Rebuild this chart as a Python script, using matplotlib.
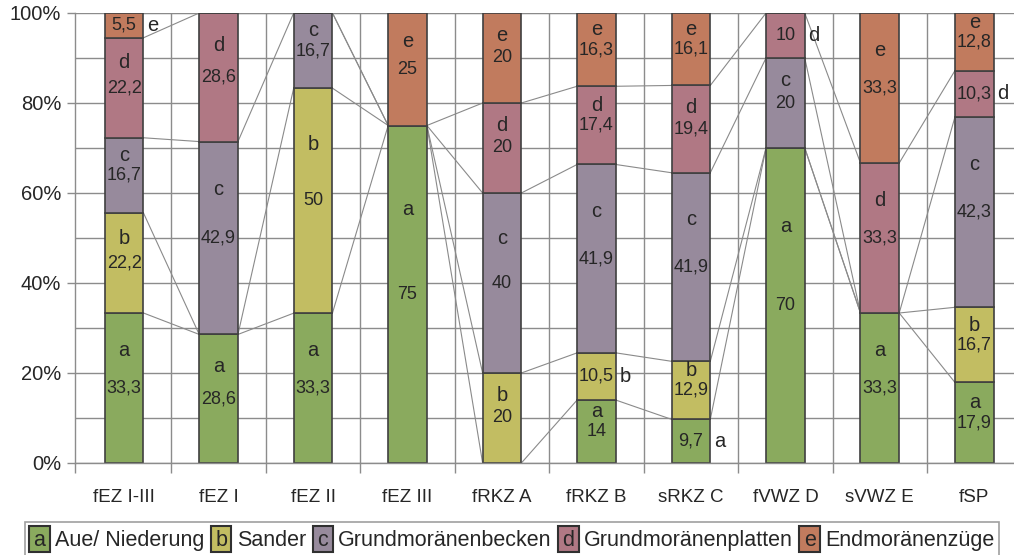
import matplotlib
matplotlib.use("Agg")
import matplotlib.pyplot as plt
import numpy as np
from matplotlib.legend_handler import HandlerPatch
from matplotlib.patches import Patch, Rectangle
from matplotlib.text import Text

plt.rcParams["font.family"] = ["Liberation Sans", "DejaVu Sans"]

categories = ["fEZ I-III", "fEZ I", "fEZ II", "fEZ III", "fRKZ A",
              "fRKZ B", "sRKZ C", "fVWZ D", "sVWZ E", "fSP"]
letters = ["a", "b", "c", "d", "e"]
names = ["Aue/ Niederung", "Sander", "Grundmoränenbecken",
         "Grundmoränenplatten", "Endmoränenzüge"]
a_vals = [33.3, 28.6, 33.3, 75, 0, 14, 9.7, 70, 33.3, 17.9]
b_vals = [22.2, 0, 50, 0, 20, 10.5, 12.9, 0, 0, 16.7]
c_vals = [16.7, 42.9, 16.7, 0, 40, 41.9, 41.9, 20, 0, 42.3]
d_vals = [22.2, 28.6, 0, 0, 20, 17.4, 19.4, 10, 33.3, 10.3]
e_vals = [5.5, 0, 0, 25, 20, 16.3, 16.1, 0, 33.3, 12.8]
colors = ["#8aaa5e", "#c2bd62", "#978a9c", "#b07884", "#c17b5e"]

TXT = "#262626"
GRID = "#8c8c8c"


class LetterBox(HandlerPatch):
    def __init__(self, letter, **kw):
        super().__init__(**kw)
        self.letter = letter

    def create_artists(self, legend, orig_handle, xdescent, ydescent,
                       width, height, fontsize, trans):
        r = Rectangle((-xdescent, -ydescent), width, height,
                      facecolor=orig_handle.get_facecolor(),
                      edgecolor="#303030", lw=1.5, transform=trans)
        t = Text(-xdescent + width / 2, -ydescent + height / 2 - 1,
                 self.letter, ha="center", va="center", fontsize=fontsize,
                 color=TXT, transform=trans)
        return [r, t]


raw = np.array([a_vals, b_vals, c_vals, d_vals, e_vals], dtype=float)
pct = raw / raw.sum(axis=0) * 100
cum = np.cumsum(pct, axis=0)
x = np.arange(len(categories))
w = 0.41

fig = plt.figure(figsize=(10.14, 5.55), dpi=100)
ax = fig.add_axes([75 / 1014, 1 - 463 / 555, 939 / 1014, 450 / 555])

# grid
for yv in range(0, 101, 10):
    ax.axhline(yv, color=GRID, lw=1.0, zorder=0)
for xv in x[:-1] + 0.5:
    ax.axvline(xv, color=GRID, lw=1.0, zorder=0)

# series lines
for k in range(5):
    for i in range(len(x) - 1):
        ax.plot([x[i] + w / 2, x[i + 1] - w / 2], [cum[k, i], cum[k, i + 1]],
                color="#8a8a8a", lw=0.8, zorder=1)

bottom = np.zeros(len(x))
for k in range(5):
    ax.bar(x, pct[k], w, bottom=bottom, color=colors[k],
           edgecolor="#404040", lw=1.2, zorder=2)
    for i in range(len(x)):
        h = pct[k, i]
        if h <= 0:
            continue
        mid = bottom[i] + h / 2
        lab = f"{raw[k, i]:g}".replace(".", ",")
        ax.text(x[i], mid, lab, ha="center", va="center", fontsize=13,
                color=TXT, zorder=3)
        if h < 11:
            ax.text(x[i] + w / 2 + 0.04, mid, letters[k], ha="left",
                    va="center", fontsize=14.5, color=TXT, zorder=3)
        else:
            off = max(4.4, 0.25 * h)
            ax.text(x[i], mid + off, letters[k], ha="center", va="center",
                    fontsize=14.5, color=TXT, zorder=3)
    bottom += pct[k]

ax.set_xlim(-0.52, 9.42)
ax.set_ylim(0, 100)
ax.set_yticks(range(0, 101, 20))
ax.set_yticklabels([f"{v}%" for v in range(0, 101, 20)])
ax.set_xticks(x)
ax.set_xticklabels(categories)
ax.set_xticks(np.append(x[:-1] + 0.5, -0.52), minor=True)
ax.tick_params(axis="x", which="major", length=0, pad=19, labelsize=13.5,
               labelcolor=TXT)
ax.tick_params(axis="x", which="minor", length=7, color=GRID, width=1.0)
ax.tick_params(axis="y", length=6, color=GRID, width=1.0, pad=4,
               labelsize=14.5, labelcolor=TXT)
for s in ["top", "right"]:
    ax.spines[s].set_visible(False)
for s in ["left", "bottom"]:
    ax.spines[s].set_color(GRID)
    ax.spines[s].set_linewidth(1.0)
ax.set_facecolor("white")

handles = [Patch(facecolor=c) for c in colors]
leg = fig.legend(handles, names, ncol=5, loc="upper left",
                 bbox_to_anchor=(25 / 1014, 1 - 522 / 555),
                 handler_map={h: LetterBox(l) for h, l in zip(handles, letters)},
                 fontsize=15.5, handlelength=0.95, handleheight=1.45,
                 handletextpad=0.25, columnspacing=0.3, borderpad=0.2,
                 borderaxespad=0, fancybox=False, frameon=True)
leg.get_frame().set_edgecolor("#888888")
leg.get_frame().set_linewidth(1.2)
for t in leg.get_texts():
    t.set_color(TXT)

fig.savefig("out.png", dpi=100)
